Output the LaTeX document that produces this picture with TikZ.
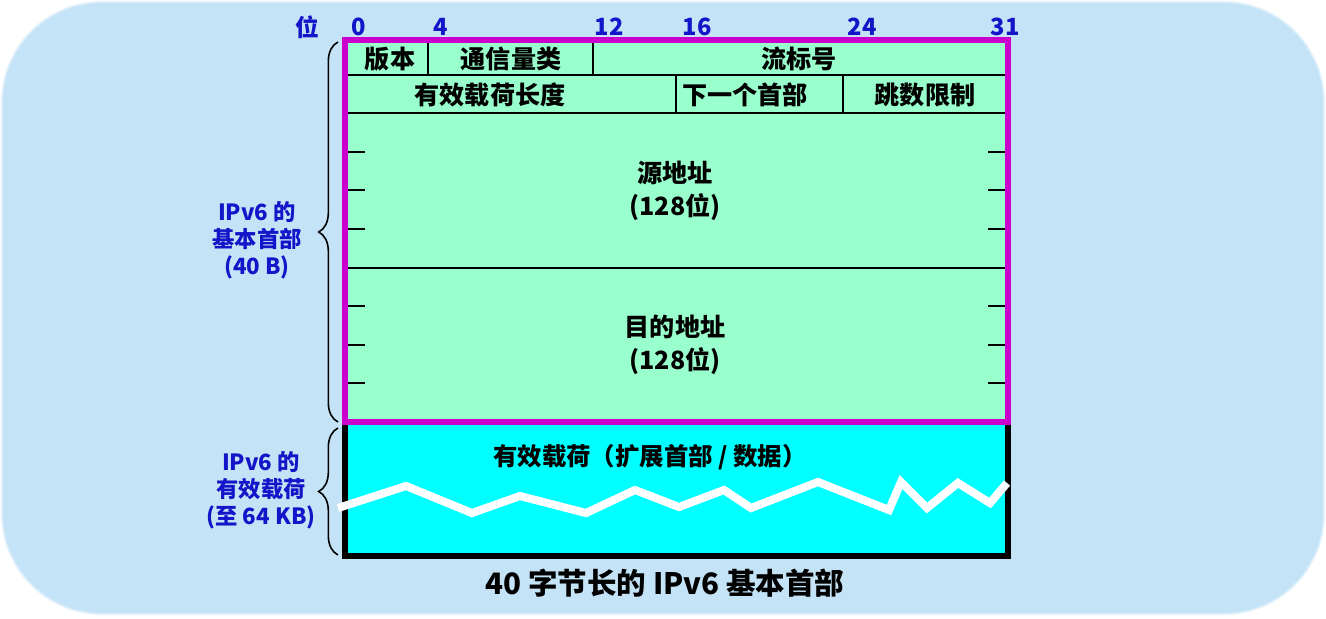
\documentclass[tikz,border=0pt]{standalone}
\usepackage{fontspec}
\setmainfont{Noto Sans CJK SC}
\usetikzlibrary{decorations.pathreplacing,positioning}

\definecolor{bgblue}{RGB}{196,227,246}
\definecolor{hdrgreen}{RGB}{153,255,204}
\definecolor{hdrmag}{RGB}{204,0,204}
\definecolor{lblblue}{RGB}{20,20,200}
\definecolor{paycyan}{RGB}{0,255,255}

\begin{document}
\begin{tikzpicture}[
    x=0.02cm, y=-0.02cm,
    font=\bfseries\fontsize{14.3}{18.7}\selectfont,
    field/.style={inner sep=0pt, align=center},
    bit/.style={text=lblblue, inner sep=0pt, font=\bfseries\fontsize{13.5}{15}\selectfont},
    side/.style={text=lblblue, align=center, inner sep=0pt, font=\bfseries\fontsize{12.7}{15.4}\selectfont},
    rule/.style={line width=1.1pt},
    brc/.style={decorate, decoration={brace, amplitude=11pt}, line width=0.9pt}
]
\useasboundingbox (0,0) rectangle (1326,619);
\fill[bgblue, draw=bgblue!55!white, line width=1pt, rounded corners=2cm] (2,2) rectangle (1324,614);

% payload area
\filldraw[fill=paycyan, draw=black, line width=3.2pt] (345,422) rectangle (1008,556);
\draw[white, line width=4.6pt] (338,508) -- (406,486) -- (472,513) -- (520,496) -- (586,513) -- (635,490)
    -- (679,507) -- (724,490) -- (751,508) -- (818,482) -- (889,510) -- (901,482) -- (927,508)
    -- (958,483) -- (990,503) -- (1007,483);
\node[field, font=\bfseries\fontsize{13.9}{16}\selectfont] (payload) at (650,457) {有效载荷（扩展首部 / 数据）};

% base header
\fill[hdrgreen] (345,40) rectangle (1008,422);
\draw[rule] (345,75) -- (1008,75);
\draw[rule] (345,113) -- (1008,113);
\draw[rule] (345,268) -- (1008,268);
\draw[rule] (428,40) -- (428,75);
\draw[rule] (593,40) -- (593,75);
\draw[rule] (676,75) -- (676,113);
\draw[rule] (843,75) -- (843,113);
\foreach \y in {152,190,229,306,345,383} {
  \draw[rule] (345,\y) -- (365,\y);
  \draw[rule] (988,\y) -- (1008,\y);
}
\draw[hdrmag, line width=3.4pt] (345,40) rectangle (1008,422);

\node[field] (ver) at (390,59) {版本};
\node[field] (tclass) at (511,59) {通信量类};
\node[field] (flow) at (799,59) {流标号};
\node[field] (plen) at (490,95) {有效载荷长度};
\node[field] (nxt) at (745,95) {下一个首部};
\node[field] (hop) at (925,95) {跳数限制};
\node[field] (src) at (675,191) {源地址\\(128位)};
\node[field] (dst) at (675,345) {目的地址\\(128位)};

% bit positions
\node[bit] (wei) at (307,27) {位};
\node[bit] (b0) at (359,27) {0};
\node[bit] (b4) at (441,27) {4};
\node[bit] (b12) at (609,27) {12};
\node[bit] (b16) at (697,27) {16};
\node[bit] (b24) at (862,27) {24};
\node[bit] (b31) at (1005,27) {31};

% braces and side labels
\coordinate (hdrtop) at (338,42);
\coordinate (hdrbot) at (338,422);
\coordinate (paytop) at (338,428);
\coordinate (paybot) at (338,555);
\draw[brc] (hdrbot) -- (hdrtop);
\draw[brc] (paybot) -- (paytop);
\node[side] (hdrlbl) at (257,240) {IPv6 的\\基本首部\\(40 B)};
\node[side] (paylbl) at (261,490) {IPv6 的\\有效载荷\\(至 64 KB)};

\node[font=\bfseries\fontsize{16.8}{19}\selectfont] (caption) at (665,583) {40 字节长的 IPv6 基本首部};
\end{tikzpicture}
\end{document}
